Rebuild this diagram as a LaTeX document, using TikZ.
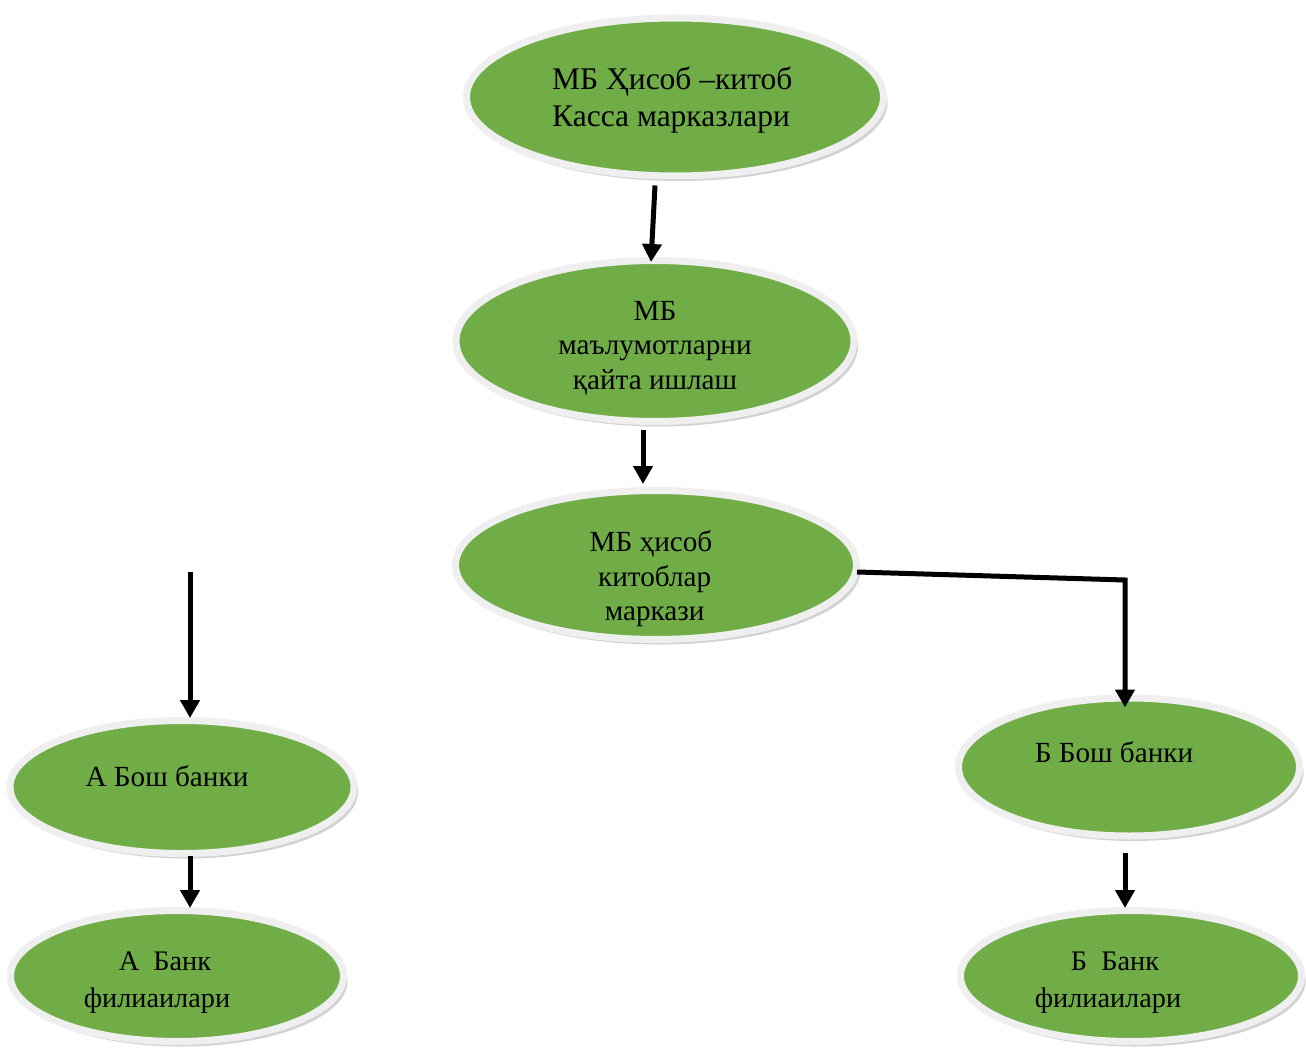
\documentclass[tikz,border=0pt]{standalone}
\usepackage{fontspec}
\setmainfont{Liberation Serif}
\usetikzlibrary{shapes.geometric,arrows.meta,shadows,calc}
\definecolor{leaf}{HTML}{70AD47}
\definecolor{rim}{HTML}{EFEFEF}
\begin{document}
\begin{tikzpicture}[x=1pt,y=-1pt,
  bub/.style={ellipse, inner sep=0pt, fill=leaf, draw=rim, line width=7pt,
    drop shadow={shadow xshift=4pt, shadow yshift=-5pt, opacity=0.25, fill=black!70}},
  txt/.style={inner sep=0pt, align=center, font=\fontsize{29.2}{34.5}\selectfont},
  big/.style={font=\fontsize{31.5}{37}\selectfont},
  small/.style={font=\fontsize{28.3}{37}\selectfont},
  arr/.style={line width=5pt, -{Triangle[length=18pt,width=19pt]}}]
\useasboundingbox[fill=white] (0,0) rectangle (1306,1048);

% ellipses
\node[bub, minimum width=417pt, minimum height=158pt] (e1) at (675,97) {};
\node[bub, minimum width=398pt, minimum height=161pt] (e2) at (655,341) {};
\node[bub, minimum width=401pt, minimum height=149pt] (e3) at (656,565) {};
\node[bub, minimum width=344pt, minimum height=133pt] (e4) at (182,787) {};
\node[bub, minimum width=333pt, minimum height=131pt] (e5) at (177,976) {};
\node[bub, minimum width=341pt, minimum height=138pt] (e6) at (1129,767) {};
\node[bub, minimum width=341pt, minimum height=131pt] (e7) at (1131,976) {};

% texts
\node[txt, big, align=left, anchor=west] (t1) at (552,100) {МБ Ҳисоб –китоб\\Касса марказлари};
\node[txt] (t2) at (655,348) {МБ\\маълумотларни\\қайта ишлаш};
\node[txt] (t3) at (651,579) {МБ ҳисоб\\\ китоблар\\\ маркази};
\node[txt] (t4) at (167,776) {А Бош банки};
\node[txt, small] (t5) at (157,983) {\hspace*{16pt}А\ \ Банк\\филиаилари};
\node[txt] (t6) at (1114,752) {Б Бош банки};
\node[txt, small] (t7) at (1108,983) {\hspace*{14pt}Б\ \ Банк\\филиаилари};

% connectors
\coordinate (a3s) at (190,572);
\coordinate (bend) at (1125,580);
\draw[arr] ($(e1.south)+(-20,6)$) -- ($(e2.north)+(-4,5)$);
\draw[arr] ($(e2.south)+(-12,5)$) -- ($(e3.north)+(-13,-3)$);
\draw[arr] (a3s) -- ($(e4.north)+(8,1)$);
\draw[arr] ($(e4.south)+(8,-1)$) -- ($(e5.north)+(13,1)$);
\draw[arr] ($(e6.south)+(-4,13)$) -- ($(e7.north)+(-6,1)$);
\draw[arr] ($(e3.east)+(-3,7)$) -- (bend) -- ($(e6.north)+(-4,13)$);
\end{tikzpicture}
\end{document}
